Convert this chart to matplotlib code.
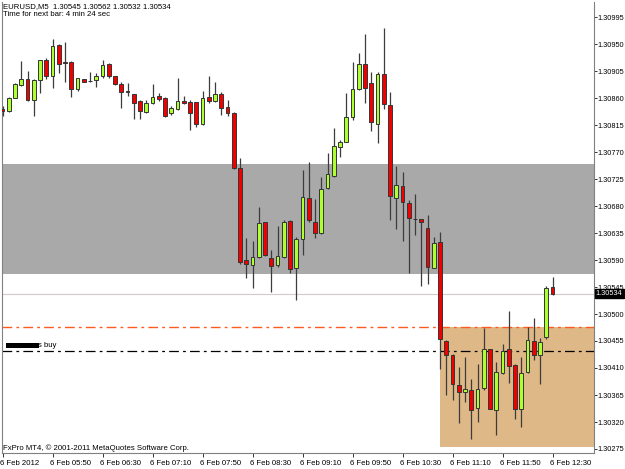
#!/usr/bin/env python3
"""
EURUSD M5 蠟燭圖 (MT4 截圖重繪)
"""

import matplotlib
matplotlib.use('Agg')
import matplotlib.pyplot as plt
from matplotlib.patches import Rectangle
import matplotlib.transforms as mtransforms

# ---- 數據 (從截圖讀取) ----
opens = [1.30842, 1.30839, 1.30860, 1.30881, 1.30891, 1.30857, 1.30890, 1.30923, 1.30897, 1.30948,
         1.30920, 1.30920, 1.30875, 1.30891, 1.30889, 1.30890, 1.30896, 1.30917, 1.30896, 1.30883,
         1.30871, 1.30866, 1.30855, 1.30837, 1.30851, 1.30864, 1.30860, 1.30835, 1.30841, 1.30855,
         1.30853, 1.30853, 1.30816, 1.30861, 1.30855, 1.30867, 1.30845, 1.30835, 1.30743, 1.30590,
         1.30581, 1.30595, 1.30653, 1.30593, 1.30581, 1.30595, 1.30655, 1.30576, 1.30625, 1.30693,
         1.30653, 1.30635, 1.30710, 1.30730, 1.30778, 1.30787, 1.30829, 1.30875, 1.30917, 1.30885,
         1.30817, 1.30900, 1.30848, 1.30693, 1.30713, 1.30685, 1.30659, 1.30658, 1.30643, 1.30577,
         1.30620, 1.30455, 1.30432, 1.30382, 1.30370, 1.30374, 1.30343, 1.30376, 1.30441, 1.30340,
         1.30402, 1.30441, 1.30415, 1.30341, 1.30404, 1.30455, 1.30432, 1.30461, 1.30545]
highs = [1.30847, 1.30862, 1.30885, 1.30922, 1.30905, 1.30891, 1.30924, 1.30927, 1.30958, 1.30950,
         1.30953, 1.30921, 1.30894, 1.30892, 1.30904, 1.30901, 1.30924, 1.30918, 1.30897, 1.30886,
         1.30885, 1.30867, 1.30857, 1.30856, 1.30883, 1.30868, 1.30861, 1.30846, 1.30894, 1.30864,
         1.30857, 1.30854, 1.30872, 1.30896, 1.30887, 1.30870, 1.30857, 1.30836, 1.30760, 1.30626,
         1.30622, 1.30679, 1.30654, 1.30607, 1.30646, 1.30657, 1.30657, 1.30629, 1.30740, 1.30754,
         1.30692, 1.30728, 1.30768, 1.30810, 1.30790, 1.30868, 1.30920, 1.30935, 1.30966, 1.30904,
         1.30904, 1.30976, 1.30870, 1.30746, 1.30737, 1.30690, 1.30700, 1.30659, 1.30665, 1.30628,
         1.30636, 1.30457, 1.30433, 1.30411, 1.30428, 1.30392, 1.30417, 1.30477, 1.30442, 1.30420,
         1.30450, 1.30505, 1.30416, 1.30428, 1.30478, 1.30494, 1.30460, 1.30547, 1.30562]
lows = [1.30830, 1.30837, 1.30860, 1.30880, 1.30855, 1.30830, 1.30869, 1.30891, 1.30876, 1.30902,
        1.30887, 1.30861, 1.30871, 1.30886, 1.30886, 1.30879, 1.30894, 1.30894, 1.30882, 1.30844,
        1.30864, 1.30825, 1.30825, 1.30835, 1.30850, 1.30855, 1.30829, 1.30832, 1.30840, 1.30850,
        1.30807, 1.30812, 1.30815, 1.30851, 1.30854, 1.30832, 1.30830, 1.30742, 1.30583, 1.30560,
        1.30543, 1.30594, 1.30597, 1.30537, 1.30579, 1.30593, 1.30568, 1.30523, 1.30598, 1.30654,
        1.30626, 1.30633, 1.30708, 1.30729, 1.30762, 1.30786, 1.30823, 1.30873, 1.30852, 1.30805,
        1.30785, 1.30841, 1.30656, 1.30641, 1.30622, 1.30568, 1.30632, 1.30546, 1.30550, 1.30576,
        1.30408, 1.30365, 1.30356, 1.30318, 1.30353, 1.30292, 1.30320, 1.30373, 1.30341, 1.30298,
        1.30400, 1.30385, 1.30325, 1.30312, 1.30402, 1.30423, 1.30383, 1.30458, 1.30532]
closes = [1.30838, 1.30860, 1.30883, 1.30891, 1.30857, 1.30890, 1.30923, 1.30897, 1.30947, 1.30917,
          1.30919, 1.30875, 1.30893, 1.30887, 1.30888, 1.30896, 1.30915, 1.30896, 1.30883, 1.30870,
          1.30870, 1.30851, 1.30839, 1.30851, 1.30861, 1.30858, 1.30830, 1.30843, 1.30855, 1.30851,
          1.30835, 1.30816, 1.30860, 1.30855, 1.30866, 1.30843, 1.30835, 1.30743, 1.30586, 1.30583,
          1.30595, 1.30652, 1.30598, 1.30580, 1.30596, 1.30653, 1.30575, 1.30625, 1.30695, 1.30656,
          1.30635, 1.30708, 1.30734, 1.30780, 1.30787, 1.30828, 1.30875, 1.30917, 1.30877, 1.30820,
          1.30900, 1.30850, 1.30696, 1.30715, 1.30687, 1.30660, 1.30658, 1.30654, 1.30578, 1.30618,
          1.30458, 1.30432, 1.30383, 1.30370, 1.30375, 1.30340, 1.30375, 1.30441, 1.30342, 1.30404,
          1.30439, 1.30414, 1.30341, 1.30402, 1.30456, 1.30432, 1.30454, 1.30543, 1.30534]

time_labels = ["6 Feb 2012", "6 Feb 05:50", "6 Feb 06:30", "6 Feb 07:10", "6 Feb 07:50",
               "6 Feb 08:30", "6 Feb 09:10", "6 Feb 09:50", "6 Feb 10:30", "6 Feb 11:10",
               "6 Feb 11:50", "6 Feb 12:30"]
bars_per_label = 8

price_labels = ["1.30995", "1.30950", "1.30905", "1.30860", "1.30815", "1.30770", "1.30725",
                "1.30680", "1.30635", "1.30590", "1.30545", "1.30500", "1.30455", "1.30410",
                "1.30365", "1.30320", "1.30275"]

# 區域與水平線
gray_zone = (1.30567, 1.30750)
tan_zone = (1.30278, 1.30478)
tan_zone_start = 70
orange_level = 1.30478
buy_level = 1.30439
bid_price = 1.30534

header = "EURUSD,M5  1.30545 1.30562 1.30532 1.30534"
timer_text = "Time for next bar: 4 min 24 sec"
copyright_text = "FxPro MT4, \u00a9 2001-2011 MetaQuotes Software Corp."

# ---- 樣式 ----
plt.rcParams['font.family'] = ['Liberation Sans', 'DejaVu Sans']
plt.rcParams['lines.scale_dashes'] = False
FS = 5.6
FS_PRICE = 5.3
BULL = '#adff2f'
BEAR = '#f20000'
OUTLINE = '#353535'
AXIS = '#808080'

W, H = 625, 469
fig = plt.figure(figsize=(W / 100, H / 100), dpi=100)
ax = fig.add_axes([2 / W, (H - 453) / H, 592 / W, 451 / H])

px_per_bar = 6.25
ax.set_xlim((2 - 2.5) / px_per_bar, (594 - 2.5) / px_per_bar)
ax.set_ylim(1.30995 - 436 / 60000, 1.30995 + 15 / 60000)

n = len(opens)
xs = list(range(n))

# 背景區域
ax.axhspan(gray_zone[0], gray_zone[1], color='#a9a9a9', lw=0, zorder=1)
ax.add_patch(Rectangle((tan_zone_start, tan_zone[0]), 200, tan_zone[1] - tan_zone[0],
                       facecolor='#deb887', edgecolor='none', zorder=1))

# 水平線
ax.axhline(bid_price, color='#d6c8c8', lw=0.8, zorder=2)
ax.axhline(orange_level, color='#ff5a1f', lw=1.0, dashes=(7, 3, 2, 3), zorder=2)
ax.axhline(buy_level, color='black', lw=0.9, dashes=(7, 3, 2, 3), zorder=2)

# 蠟燭
for i in xs:
    o, h, l, c = opens[i], highs[i], lows[i], closes[i]
    ax.vlines(i, l, h, color='#3c3c3c', lw=0.9, zorder=3)
    bottom = min(o, c)
    height = max(abs(c - o), 0.000003)
    color = BULL if c > o else BEAR
    ax.bar(i, height, bottom=bottom, width=0.62, color=color,
           edgecolor=OUTLINE, linewidth=0.7, zorder=4)

# 軸
ax.spines['top'].set_visible(False)
for side in ['left', 'right', 'bottom']:
    ax.spines[side].set_color(AXIS)
    ax.spines[side].set_linewidth(0.8)

ax.yaxis.tick_right()
ax.set_yticks([float(s) for s in price_labels])
ax.set_yticklabels(price_labels)
ax.set_xticks([k * bars_per_label for k in range(len(time_labels))])
ax.set_xticklabels(time_labels, ha='left')
ax.tick_params(axis='y', length=2, width=0.7, color='#333333', pad=0.6, labelsize=FS_PRICE)
ax.tick_params(axis='x', length=3, width=0.7, color='#333333', pad=2, labelsize=FS)
for lbl in ax.get_xticklabels():
    lbl.set_transform(lbl.get_transform() + mtransforms.ScaledTranslation(-2 / 100, 0, fig.dpi_scale_trans))

# 當前價格標籤
trans = mtransforms.blended_transform_factory(ax.transAxes, ax.transData)
ax.text(1.003, bid_price, f"{bid_price:.5f}", transform=trans, fontsize=FS_PRICE, color='white',
        va='center', ha='left',
        bbox=dict(boxstyle='square,pad=0.15', facecolor='black', edgecolor='black'))

# 文字
fig.text(3 / W, 1 - 7 / H, header, fontsize=FS, va='center', ha='left')
fig.text(3 / W, 1 - 15 / H, timer_text, fontsize=FS, va='center', ha='left')
fig.text(3 / W, 1 - 448 / H, copyright_text, fontsize=FS, va='center', ha='left')

# buy 線標籤 (名稱被遮住)
fig.patches.append(Rectangle((6 / W, 1 - 347.5 / H), 33 / W, 4.5 / H, facecolor='black',
                             edgecolor='none', transform=fig.transFigure, figure=fig))
fig.text(38 / W, 1 - 345 / H, "s buy", fontsize=FS, va='center', ha='left')

plt.savefig('out.png', dpi=100)
plt.close()
